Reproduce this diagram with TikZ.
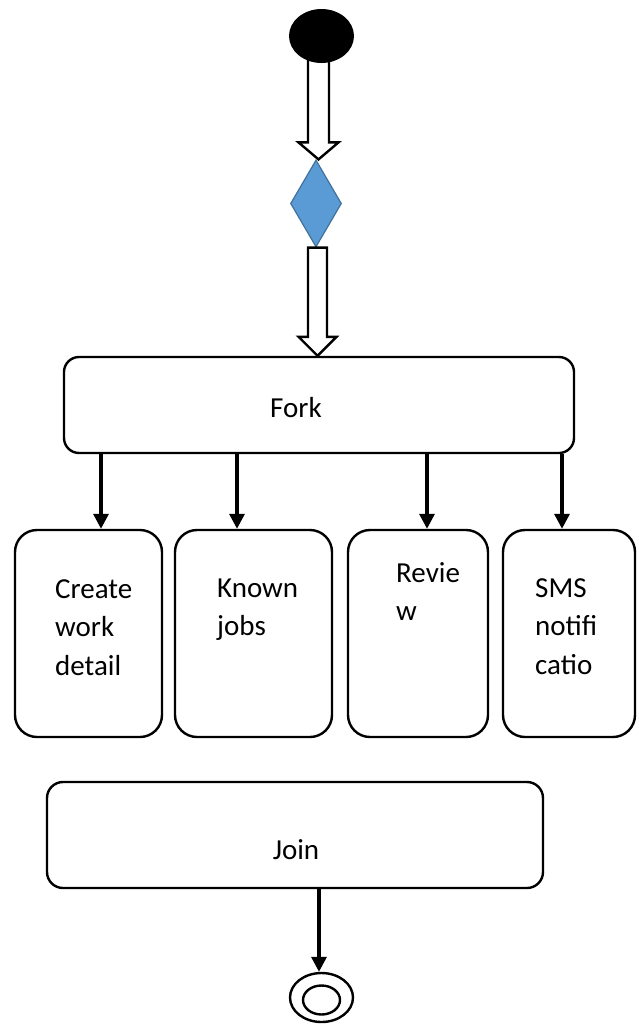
\documentclass[tikz,border=0pt]{standalone}
\usepackage{fontspec}
\setmainfont{Carlito}
\usetikzlibrary{shapes.geometric,arrows.meta,calc,backgrounds}
\definecolor{diafill}{HTML}{5B9BD5}
\definecolor{diaborder}{HTML}{41719C}
\begin{document}
\begin{tikzpicture}[x=1pt,y=-1pt,
  box/.style={draw,line width=2.4pt,inner sep=0pt},
  hollow/.style={draw,line width=2.4pt,fill=white,line join=miter},
  farrow/.style={line width=3.3pt,-{Triangle[length=15pt,width=15pt]}},
  boxtext/.style={inner sep=0pt,align=left,font=\fontsize{29}{38.5}\selectfont},
  lbl/.style={inner sep=0pt,font=\fontsize{29}{34}\selectfont}]
\useasboundingbox (0,0) rectangle (638,1028);
% nodes
\node[ellipse,fill=black,minimum width=65,minimum height=54,inner sep=0pt] (start) at (321.5,36) {};
\node[diamond,fill=diafill,draw=diaborder,line width=1.2pt,minimum width=51,minimum height=87,inner sep=0pt] (dia) at (316,203.5) {};
\node[box,rounded corners=15pt,minimum width=510,minimum height=96] (fork) at (319,405) {};
\node[lbl,anchor=base] (forkt) at (296,417) {Fork};
\node[box,rounded corners=22pt,minimum width=147,minimum height=207] (b1) at (88.5,633.5) {};
\node[box,rounded corners=22pt,minimum width=157,minimum height=207] (b2) at (253.5,633.5) {};
\node[box,rounded corners=22pt,minimum width=140,minimum height=207] (b3) at (418,633.5) {};
\node[box,rounded corners=22pt,minimum width=132,minimum height=207] (b4) at (569,633.5) {};
\node[boxtext,anchor=base west] (t1) at (55,675) {Create\\work\\detail};
\node[boxtext,anchor=base west] (t2) at (217,635.5) {Known\\jobs};
\node[boxtext,anchor=base west] (t3) at (396,620.5) {Revie\\w};
\node[boxtext,anchor=base west] (t4) at (535,674) {SMS\\notifi\\catio};
\node[box,rounded corners=16pt,minimum width=496,minimum height=106] (join) at (295,835) {};
\node[lbl,anchor=base] (joint) at (296,859) {Join};
\node[ellipse,draw,line width=2.4pt,minimum width=63,minimum height=49,inner sep=0pt] (endo) at (321.5,997.5) {};
\node[ellipse,draw,line width=2.4pt,minimum width=37,minimum height=29,inner sep=0pt] (endi) at (321.5,1000) {};
% helper x positions
\coordinate (h1) at (318.5,0);
\coordinate (h2) at (317.5,0);
\coordinate (a1) at (101,0);
\coordinate (a2) at (237,0);
\coordinate (a3) at (427,0);
\coordinate (a4) at (562,0);
\coordinate (aj) at (319,0);
% hollow arrows
\begin{pgfonlayer}{background}
\draw[hollow] ($(h1 |- start.south)+(-10.5,-4)$) -- ($(h1 |- dia.north)+(-10.5,-17)$) -- ($(h1 |- dia.north)+(-20,-17)$) -- (h1 |- dia.north) -- ($(h1 |- dia.north)+(20,-17)$) -- ($(h1 |- dia.north)+(10.5,-17)$) -- ($(h1 |- start.south)+(10.5,-4)$);
\end{pgfonlayer}
\draw[hollow] ($(h2 |- dia.south)+(-9.5,0)$) -- ($(h2 |- fork.north)+(-9.5,-19)$) -- ($(h2 |- fork.north)+(-19,-19)$) -- (h2 |- fork.north) -- ($(h2 |- fork.north)+(19,-19)$) -- ($(h2 |- fork.north)+(9.5,-19)$) -- ($(h2 |- dia.south)+(9.5,0)$) -- cycle;
% fork arrows
\draw[farrow] (a1 |- fork.south) -- (a1 |- b1.north);
\draw[farrow] (a2 |- fork.south) -- (a2 |- b2.north);
\draw[farrow] (a3 |- fork.south) -- (a3 |- b3.north);
\draw[farrow] (a4 |- fork.south) -- (a4 |- b4.north);
% join arrow
\draw[farrow] (aj |- join.south) -- (aj |- endo.north);
\end{tikzpicture}
\end{document}
